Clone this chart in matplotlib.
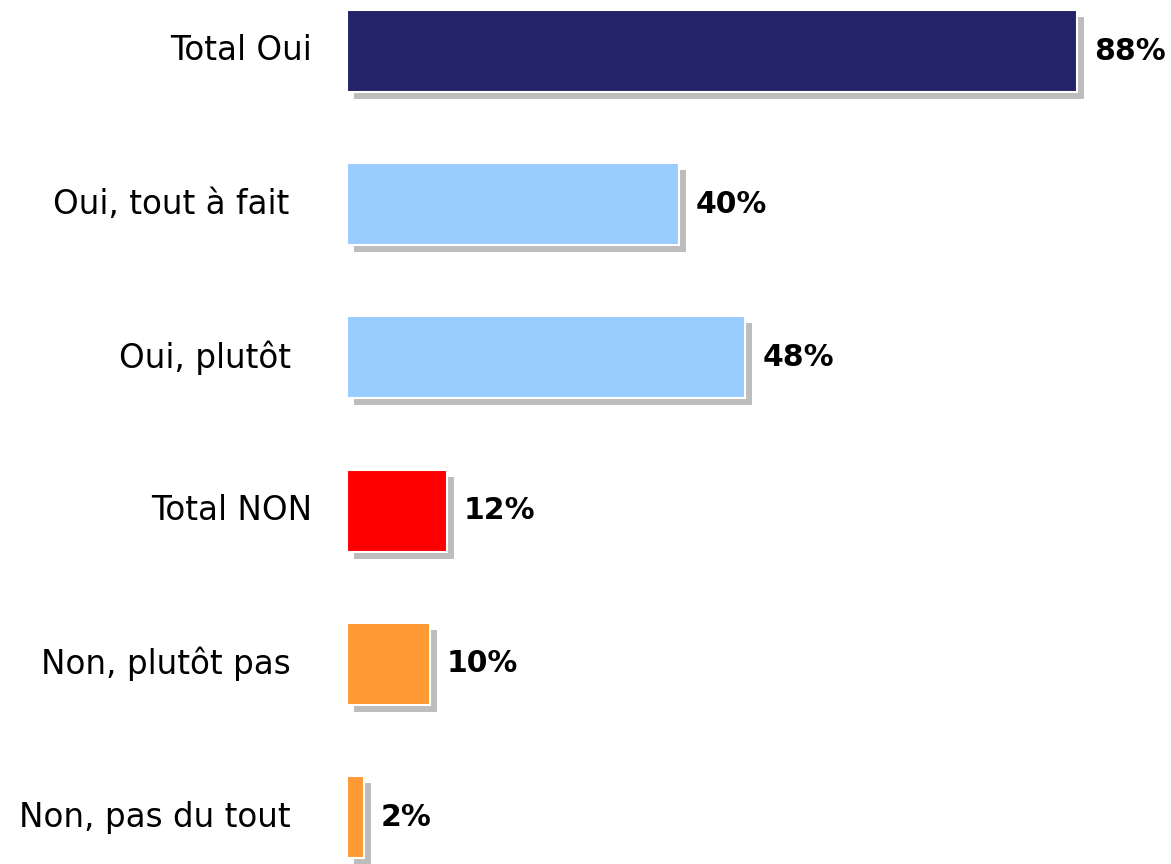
import matplotlib.pyplot as plt
import matplotlib.patheffects as pe

# data
labels = ["Total Oui", "Oui, tout à fait", "Oui, plutôt", "Total NON", "Non, plutôt pas", "Non, pas du tout"]
values = [88, 40, 48, 12, 10, 2]
colors = ["#232369", "#99CCFF", "#99CCFF", "#FF0000", "#FF9933", "#FF9933"]
# the "Total" labels sit a bit further right than the others
label_pad = [35, 58, 56, 35, 56, 56]

fig = plt.figure(figsize=(11.71, 8.64), dpi=100)
ax = fig.add_axes([347 / 1171, 0, 1 - 347 / 1171, 1])

pos = list(range(len(values)))
shadow = [pe.SimplePatchShadow(offset=(5, -5), shadow_rgbFace="#bdbdbd", alpha=1.0), pe.Normal()]
bars = ax.barh(pos, values, height=0.535, color=colors, edgecolor="white", linewidth=1.5)
for b in bars:
    b.set_path_effects(shadow)

for i, (lab, v) in enumerate(zip(labels, values)):
    ax.annotate(lab, (0, i), xytext=(-label_pad[i], 0), textcoords="offset pixels",
                ha="right", va="center", fontsize=23.5, color="black")
    ax.annotate(f"{v}%", (v, i), xytext=(17, 0), textcoords="offset pixels",
                ha="left", va="center", fontsize=21.5, fontweight="bold", color="black")

ax.set_xlim(0, 824 / 8.3)
ax.set_ylim(5 + 47 / 153.2, -51 / 153.2)
ax.axis("off")

fig.savefig("out.png", dpi=100)
